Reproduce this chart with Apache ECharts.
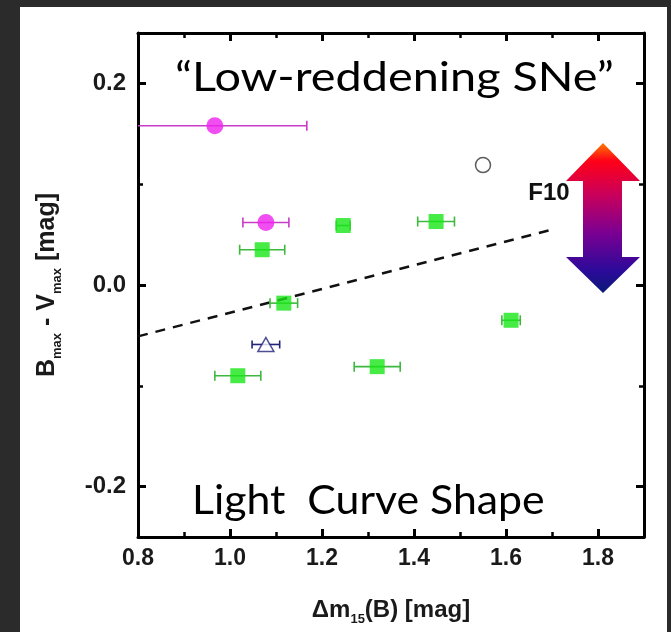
<!DOCTYPE html>
<html>
<head>
<meta charset="utf-8">
<script src="https://cdn.jsdelivr.net/npm/echarts@6.0.0/dist/echarts.min.js"></script>
<style>
html, body { margin: 0; padding: 0; background: #2b2b2b; }
#panel { position: absolute; left: 20px; top: 7px; width: 647px; height: 625px; background: #fff; }
#main { position: absolute; left: 0; top: 0; width: 671px; height: 632px; }
</style>
</head>
<body>
<div id="panel"></div>
<div id="main"></div>
<script>
// ticks
var xMajor = [0.8, 1.0, 1.2, 1.4, 1.6, 1.8];
var xMinor = [0.9, 1.1, 1.3, 1.5, 1.7];
var yMajor = [-0.2, 0.0, 0.2];
var yMinor = [-0.1, 0.1];

// green squares (with x error)
var greenX = [1.070, 1.117, 1.246, 1.448, 1.611, 1.017, 1.320];
var greenY = [0.035, -0.018, 0.059, 0.063, -0.035, -0.090, -0.081];
var greenErr = [0.049, 0.030, 0.015, 0.040, 0.020, 0.050, 0.050];

// magenta circles
var magX = [0.967, 1.078];
var magY = [0.158, 0.062];
var magErr = [0.200, 0.050];

// open triangle
var triX = [1.078];
var triY = [-0.059];
var triErr = [0.030];

// open circle
var openX = [1.55];
var openY = [0.119];

// dashed fit line
var fitX = [0.8, 1.7];
var fitY = [-0.051, 0.055];

var axisFont = '"Liberation Sans", Arial, sans-serif';
var slideFont = 'Lato, "Open Sans", sans-serif';

function zip(a, b, c) {
  return a.map(function (v, i) { return c ? [v, b[i], c[i]] : [v, b[i]]; });
}

function errBars(xs, ys, errs, color, cap) {
  return {
    type: 'custom',
    clip: true,
    z: 2,
    silent: true,
    data: zip(xs, ys, errs),
    encode: { x: 0, y: 1 },
    renderItem: function (params, api) {
      var x = api.value(0), y = api.value(1), e = api.value(2);
      var lo = api.coord([x - e, y]);
      var hi = api.coord([x + e, y]);
      var st = { stroke: color, lineWidth: 1.6 };
      return {
        type: 'group',
        children: [
          { type: 'line', shape: { x1: lo[0], y1: lo[1], x2: hi[0], y2: hi[1] }, style: st },
          { type: 'line', shape: { x1: lo[0], y1: lo[1] - cap, x2: lo[0], y2: lo[1] + cap }, style: st },
          { type: 'line', shape: { x1: hi[0], y1: hi[1] - cap, x2: hi[0], y2: hi[1] + cap }, style: st }
        ]
      };
    }
  };
}

function xAx(pos, ticks, len, major, label) {
  return {
    type: 'value', position: pos, min: 0.8, max: 1.9,
    axisLine: { show: major, onZero: false, lineStyle: { color: '#000', width: 3 } },
    axisTick: { show: true, inside: true, length: len, customValues: ticks, lineStyle: { color: '#000', width: major ? 3 : 2.5 } },
    axisLabel: label ? {
      show: true, customValues: ticks, margin: 10,
      formatter: function (v) { return v.toFixed(1); },
      color: '#1a1a1a', fontSize: 23, fontWeight: 'bold', fontFamily: axisFont
    } : { show: false },
    splitLine: { show: false }
  };
}

function yAx(pos, ticks, len, major, label) {
  return {
    type: 'value', position: pos, min: -0.25, max: 0.25,
    axisLine: { show: major, onZero: false, lineStyle: { color: '#000', width: 3 } },
    axisTick: { show: true, inside: true, length: len, customValues: ticks, lineStyle: { color: '#000', width: major ? 3 : 2.5 } },
    axisLabel: label ? {
      show: true, customValues: ticks, margin: 12,
      formatter: function (v) { return v.toFixed(1); },
      color: '#1a1a1a', fontSize: 24, fontWeight: 'bold', fontFamily: axisFont
    } : { show: false },
    splitLine: { show: false }
  };
}

var xBottom = xAx('bottom', xMajor, 8, true, true);
xBottom.name = 'Δm{s|15}(B) [mag]';
xBottom.nameLocation = 'middle';
xBottom.nameGap = 58;
xBottom.nameTextStyle = {
  color: '#1a1a1a', fontSize: 24, fontWeight: 'bold', fontFamily: axisFont,
  rich: {
    s: { fontSize: 13, fontWeight: 'bold', fontFamily: axisFont, color: '#1a1a1a', padding: [18, 0, 0, 0] }
  }
};

var yLeft = yAx('left', yMajor, 8, true, true);
yLeft.name = 'B{s|max} - V{s|max} [mag]';
yLeft.nameLocation = 'middle';
yLeft.nameRotate = 90;
yLeft.nameGap = 74;
yLeft.nameTextStyle = {
  color: '#1a1a1a', fontSize: 25, fontWeight: 'bold', fontFamily: axisFont,
  rich: {
    s: { fontSize: 13, fontWeight: 'bold', fontFamily: axisFont, color: '#1a1a1a', padding: [21, 0, 0, 0] }
  }
};

var chart = echarts.init(document.getElementById('main'));
var option = {
  animation: false,
  backgroundColor: 'transparent',
  grid: { left: 138, right: 27, top: 33, bottom: 95 },
  xAxis: [
    xBottom,
    xAx('bottom', xMinor, 5, false, false),
    xAx('top', xMajor, 8, true, false),
    xAx('top', xMinor, 5, false, false)
  ],
  yAxis: [
    yLeft,
    yAx('left', yMinor, 5, false, false),
    yAx('right', yMajor, 8, true, false),
    yAx('right', yMinor, 5, false, false)
  ],
  series: [
    {
      type: 'line', data: zip(fitX, fitY), showSymbol: false, z: 1, silent: true,
      lineStyle: { color: '#111', width: 2.5, type: [10, 8] }
    },
    errBars(greenX, greenY, greenErr, '#3fb83f', 5),
    errBars(magX, magY, magErr, '#c83cc8', 5),
    errBars(triX, triY, triErr, '#22227a', 4),
    {
      type: 'scatter', data: zip(greenX, greenY), symbol: 'rect', symbolSize: 15, z: 3,
      itemStyle: { color: '#18e618' }
    },
    {
      type: 'scatter', data: zip(magX, magY), symbol: 'circle', symbolSize: 17, z: 3,
      itemStyle: { color: '#ee22ee' }
    },
    {
      type: 'scatter', data: zip(triX, triY), symbol: 'triangle', symbolSize: [16, 14], z: 3,
      itemStyle: { color: '#fff', borderColor: '#22227a', borderWidth: 1.5 }
    },
    {
      type: 'scatter', data: zip(openX, openY), symbol: 'circle', symbolSize: 15, z: 3,
      itemStyle: { color: '#fff', borderColor: '#333', borderWidth: 1.5 }
    }
  ],
  graphic: [
    {
      type: 'text', x: 175, y: 58, scaleX: 1.17, z: 10, silent: true,
      style: { text: '“Low-reddening SNe”', fill: '#000', font: '40px ' + slideFont }
    },
    {
      type: 'text', x: 192, y: 481, scaleX: 1.07, z: 10, silent: true,
      style: { text: 'Light  Curve Shape', fill: '#000', font: '40px ' + slideFont }
    },
    {
      type: 'text', x: 549, y: 193, z: 10, silent: true,
      style: { text: 'F10', fill: '#111', font: 'bold 24px ' + axisFont, align: 'center', verticalAlign: 'middle' }
    },
    {
      type: 'polygon', z: 10, silent: true,
      shape: { points: [[603, 143], [640, 181], [622, 181], [622, 257], [640, 257], [603, 293], [566, 257], [583, 257], [583, 181], [566, 181]] },
      style: {
        fill: new echarts.graphic.LinearGradient(0, 0, 0, 1, [
          { offset: 0, color: '#ff7a00' },
          { offset: 0.12, color: '#ff0018' },
          { offset: 0.35, color: '#c8005c' },
          { offset: 0.6, color: '#7a0092' },
          { offset: 0.85, color: '#2c0a9a' },
          { offset: 1, color: '#0a1a78' }
        ])
      }
    }
  ]
};
chart.setOption(option);
</script>
</body>
</html>
